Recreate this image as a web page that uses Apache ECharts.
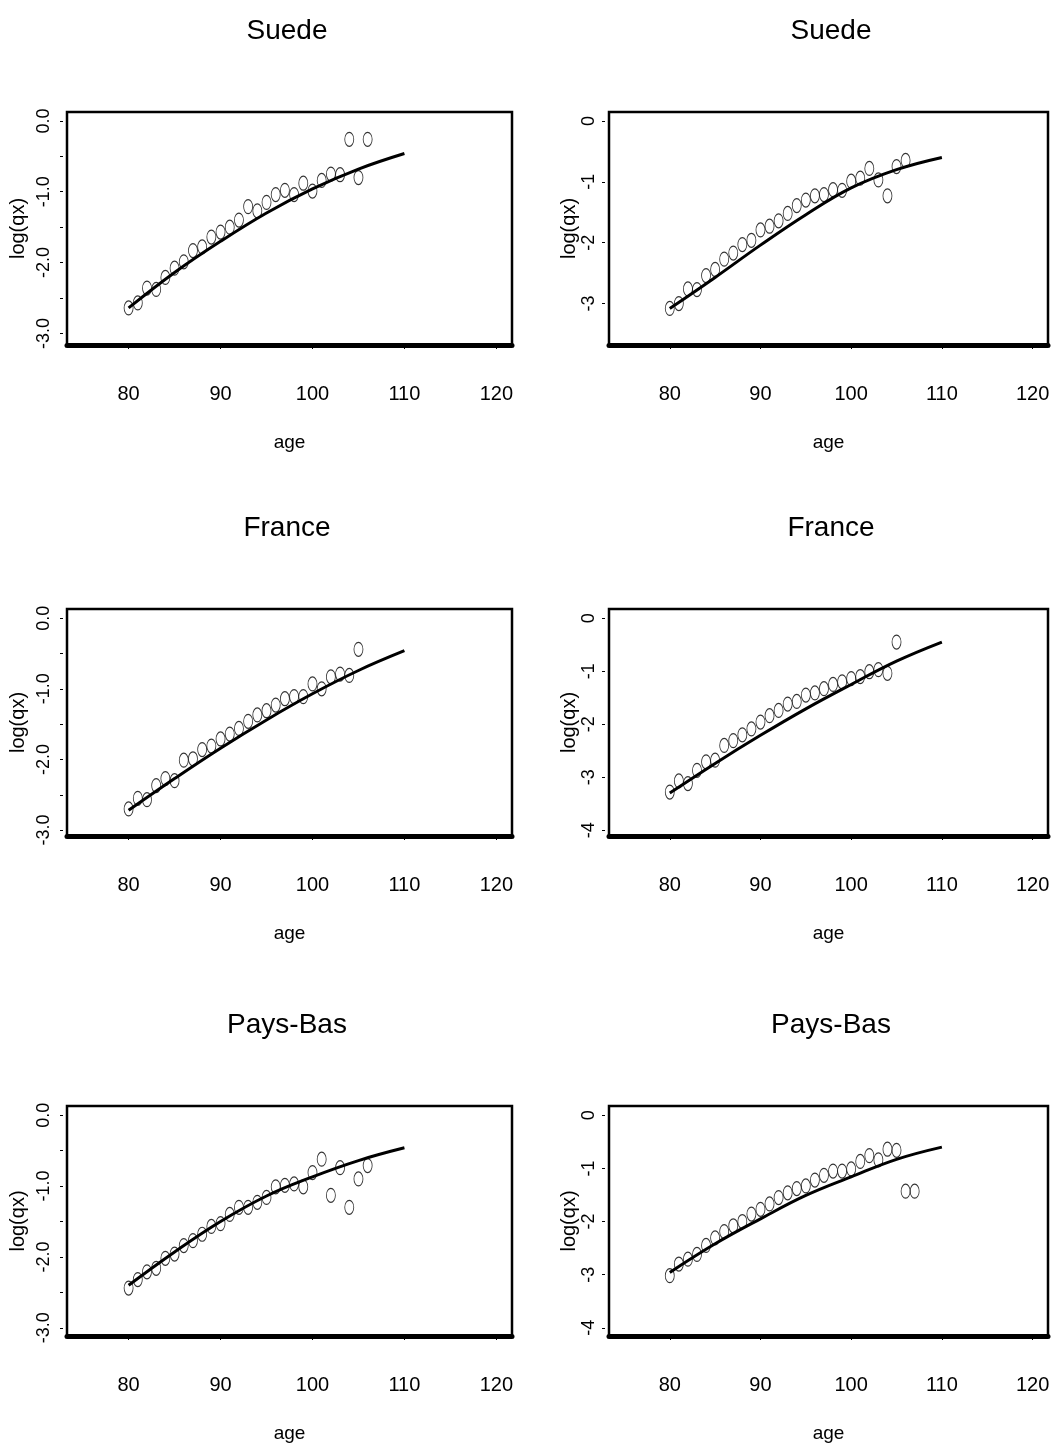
<!DOCTYPE html>
<html>
<head>
<meta charset="utf-8">
<script src="https://cdn.jsdelivr.net/npm/echarts@6/dist/echarts.min.js"></script>
<style>
html,body{margin:0;padding:0;background:#fff;}
#chart{width:1058px;height:1452px;}
</style>
</head>
<body>
<div id="chart"></div>
<script>
// ---- data ----
const titles = ["Suede", "Suede", "France", "France", "Pays-Bas", "Pays-Bas"];
const xTicks = [80, 90, 100, 110, 120];
const fitAges = [80, 85, 90, 95, 100, 105, 110];

const ages80to106 = [80,81,82,83,84,85,86,87,88,89,90,91,92,93,94,95,96,97,98,99,100,101,102,103,104,105,106];
const ages80to105 = [80,81,82,83,84,85,86,87,88,89,90,91,92,93,94,95,96,97,98,99,100,101,102,103,104,105];
const ages80to107 = [80,81,82,83,84,85,86,87,88,89,90,91,92,93,94,95,96,97,98,99,100,101,102,103,104,105,106,107];

const suedeLeftObs = [-2.64,-2.57,-2.36,-2.38,-2.21,-2.08,-1.99,-1.83,-1.78,-1.64,-1.57,-1.50,-1.40,-1.21,-1.27,-1.15,-1.04,-0.98,-1.04,-0.88,-0.99,-0.84,-0.75,-0.76,-0.26,-0.80,-0.26];
const suedeLeftFit = [-2.64,-2.14,-1.70,-1.30,-0.96,-0.68,-0.46];

const suedeRightObs = [-3.08,-3.00,-2.76,-2.77,-2.54,-2.44,-2.27,-2.17,-2.03,-1.96,-1.79,-1.73,-1.64,-1.52,-1.39,-1.30,-1.23,-1.21,-1.13,-1.14,-0.99,-0.94,-0.78,-0.97,-1.23,-0.75,-0.65];
const suedeRightFit = [-3.08,-2.57,-2.04,-1.54,-1.10,-0.80,-0.60];

const franceLeftObs = [-2.70,-2.55,-2.57,-2.37,-2.27,-2.30,-2.01,-1.99,-1.86,-1.81,-1.71,-1.64,-1.56,-1.46,-1.37,-1.31,-1.23,-1.14,-1.11,-1.11,-0.93,-1.00,-0.83,-0.79,-0.81,-0.44];
const franceLeftFit = [-2.72,-2.27,-1.84,-1.44,-1.07,-0.74,-0.46];

const franceRightObs = [-3.28,-3.07,-3.12,-2.87,-2.71,-2.68,-2.40,-2.31,-2.20,-2.09,-1.96,-1.84,-1.74,-1.62,-1.57,-1.45,-1.41,-1.33,-1.25,-1.20,-1.14,-1.10,-1.01,-0.97,-1.04,-0.45];
const franceRightFit = [-3.30,-2.74,-2.21,-1.71,-1.25,-0.81,-0.45];

const paysBasLeftObs = [-2.44,-2.32,-2.21,-2.16,-2.02,-1.96,-1.84,-1.77,-1.68,-1.57,-1.53,-1.40,-1.30,-1.30,-1.23,-1.16,-1.01,-0.99,-0.97,-1.01,-0.81,-0.62,-1.13,-0.74,-1.30,-0.90,-0.71];
const paysBasLeftFit = [-2.40,-1.93,-1.50,-1.14,-0.87,-0.64,-0.46];

const paysBasRightObs = [-3.02,-2.80,-2.71,-2.62,-2.45,-2.31,-2.19,-2.08,-2.00,-1.86,-1.77,-1.67,-1.55,-1.46,-1.38,-1.33,-1.22,-1.13,-1.05,-1.05,-1.01,-0.87,-0.76,-0.84,-0.64,-0.66,-1.43,-1.43];
const paysBasRightFit = [-2.96,-2.42,-1.95,-1.51,-1.16,-0.83,-0.60];

const yTicksLeft = [0, -0.5, -1, -1.5, -2, -2.5, -3];
const yLabelsLeft = [0, -1, -2, -3];
const yTicksRight3 = [0, -1, -2, -3];
const yTicksRight4 = [0, -1, -2, -3, -4];

// ---- layout (styles/positions) ----
const panels = [
  {ages: ages80to106, obs: suedeLeftObs, fit: suedeLeftFit, ticks: yTicksLeft, labels: yLabelsLeft, dec: 1,
   grid: {left: 67, top: 112, width: 445, height: 233}, ymin: -3.164, ymax: 0.126, side: 'L', titleX: 287, titleY: 17},
  {ages: ages80to106, obs: suedeRightObs, fit: suedeRightFit, ticks: yTicksRight3, labels: yTicksRight3, dec: 0,
   grid: {left: 609, top: 112, width: 439, height: 233}, ymin: -3.68, ymax: 0.146, side: 'R', titleX: 831, titleY: 17},
  {ages: ages80to105, obs: franceLeftObs, fit: franceLeftFit, ticks: yTicksLeft, labels: yLabelsLeft, dec: 1,
   grid: {left: 67, top: 609, width: 445, height: 227}, ymin: -3.084, ymax: 0.131, side: 'L', titleX: 287, titleY: 514},
  {ages: ages80to105, obs: franceRightObs, fit: franceRightFit, ticks: yTicksRight4, labels: yTicksRight4, dec: 0,
   grid: {left: 609, top: 609, width: 439, height: 227}, ymin: -4.11, ymax: 0.174, side: 'R', titleX: 831, titleY: 514},
  {ages: ages80to106, obs: paysBasLeftObs, fit: paysBasLeftFit, ticks: yTicksLeft, labels: yLabelsLeft, dec: 1,
   grid: {left: 67, top: 1106, width: 445, height: 230}, ymin: -3.116, ymax: 0.130, side: 'L', titleX: 287, titleY: 1011},
  {ages: ages80to107, obs: paysBasRightObs, fit: paysBasRightFit, ticks: yTicksRight4, labels: yTicksRight4, dec: 0,
   grid: {left: 609, top: 1106, width: 439, height: 230}, ymin: -4.155, ymax: 0.174, side: 'R', titleX: 831, titleY: 1011}
];

const narrow = "'Liberation Sans Narrow', 'Liberation Sans', Arial, sans-serif";
const regular = "'Liberation Sans', Arial, sans-serif";

const option = {
  animation: false,
  backgroundColor: '#fff',
  title: [], grid: [], xAxis: [], yAxis: [], series: []
};

panels.forEach((p, i) => {
  option.title.push({
    text: titles[i], left: p.titleX, top: p.titleY, textAlign: 'center', padding: 0,
    textStyle: {fontFamily: narrow, fontSize: 28, fontWeight: 'normal', color: '#000'}
  });
  option.grid.push(Object.assign({show: true, borderColor: '#000', borderWidth: 2.5, backgroundColor: 'transparent', containLabel: false}, p.grid));
  option.xAxis.push({
    type: 'value', gridIndex: i, min: 73.3, max: 121.7,
    axisLine: {show: true, onZero: false, lineStyle: {color: '#000', width: 5}},
    axisTick: {show: true, customValues: xTicks, length: 4, lineStyle: {color: '#000', width: 1}},
    axisLabel: {show: true, customValues: xTicks, margin: 39, fontFamily: narrow, fontSize: 20, color: '#000'},
    splitLine: {show: false},
    name: 'age', nameLocation: 'middle', nameGap: 88,
    nameTextStyle: {fontFamily: narrow, fontSize: 19, color: '#000'}
  });
  option.yAxis.push({
    type: 'value', gridIndex: i, min: p.ymin, max: p.ymax, position: 'left', offset: 4,
    axisLine: {show: false},
    axisTick: {show: true, customValues: p.ticks, length: 3, lineStyle: {color: '#000', width: 1}},
    axisLabel: {show: true, customValues: p.labels, rotate: 90, margin: p.side === 'L' ? 10 : 7,
      fontFamily: regular, fontSize: 18, color: '#000',
      formatter: v => (Math.abs(v) < 1e-9 ? 0 : v).toFixed(p.dec)},
    splitLine: {show: false},
    name: 'log(qx)', nameLocation: 'middle', nameGap: p.side === 'L' ? 35 : 22, nameRotate: 90,
    nameTextStyle: {fontFamily: regular, fontSize: 20, color: '#000'}
  });
  option.series.push({
    type: 'scatter', xAxisIndex: i, yAxisIndex: i,
    data: p.ages.map((a, k) => [a, p.obs[k]]),
    symbol: 'circle', symbolSize: [9, 14],
    itemStyle: {color: 'rgba(0,0,0,0)', borderColor: '#000', borderWidth: 1},
    emphasis: {disabled: true}, z: 2
  });
  option.series.push({
    type: 'line', xAxisIndex: i, yAxisIndex: i,
    data: fitAges.map((a, k) => [a, p.fit[k]]),
    smooth: 0.4, showSymbol: false, symbol: 'none',
    lineStyle: {color: '#000', width: 3},
    emphasis: {disabled: true}, z: 3
  });
});

const chart = echarts.init(document.getElementById('chart'), null, {renderer: 'canvas'});
chart.setOption(option);
</script>
</body>
</html>
